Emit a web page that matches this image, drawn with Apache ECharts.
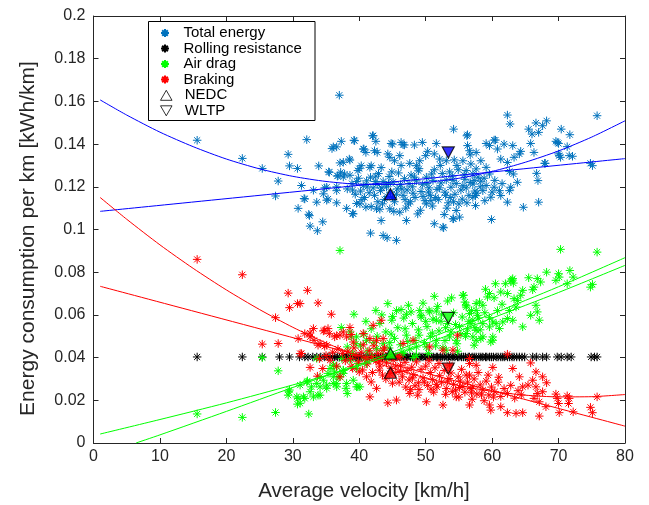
<!DOCTYPE html>
<html>
<head>
<meta charset="utf-8">
<script src="https://cdn.jsdelivr.net/npm/echarts@6/dist/echarts.min.js"></script>
<style>html,body{margin:0;padding:0;background:#fff}#c{width:649px;height:505px}</style>
</head>
<body>
<div id="c"></div>
<script>
// ---------- DATA ----------
const xTicks = [0, 10, 20, 30, 40, 50, 60, 70, 80];
const yTicks = [0, 0.02, 0.04, 0.06, 0.08, 0.1, 0.12, 0.14, 0.16, 0.18, 0.2];
const xTitle = 'Average velocity [km/h]';
const yTitle = 'Energy consumption per km [kWh/km]';

const totalEnergy = [
[15.6,0.1418],[22.4,0.1333],[25.4,0.1286],[27.8,0.1227],[27.4,0.1157],[29.3,0.1352],[29.5,0.1298],[30.7,0.1286],[32.1,0.1421],[33.9,0.1298],[31.7,0.1145],[30.8,0.1099],[32.4,0.1071],[32.6,0.1016],[33.7,0.0994],[34.5,0.1036],[33.1,0.1184],[34.8,0.1195],[35.1,0.1137],[35.4,0.1270],[35.9,0.1379],[36.6,0.1387],[37.3,0.1413],[37.1,0.1312],[38.6,0.1325],[39.2,0.1418],[36.7,0.1250],[37.6,0.1246],[36.6,0.1200],[36.6,0.1125],[38.1,0.1099],[39.0,0.1075],[39.6,0.1122],[37.0,0.1629],[38.6,0.1254],
[36.1,0.1387],[42.1,0.1439],[42.5,0.1413],[40.6,0.1377],[41.0,0.1361],[42.3,0.1369],[42.7,0.1361],[44.8,0.1403],[46.3,0.1408],[46.8,0.1396],[48.3,0.1396],[49.5,0.1408],[51.6,0.1403],[54.2,0.1470],[56.2,0.1439],[56.3,0.1393],[56.6,0.1369],[56.7,0.1350],[55.6,0.1322],[44.3,0.1354],[44.6,0.1338],[46.1,0.1346],[45.3,0.1322],[47.6,0.1310],[48.6,0.1299],[49.1,0.1322],[50.0,0.1346],[50.3,0.1366],[51.3,0.1354],[52.1,0.1330],[53.1,0.1322],[54.3,0.1326],[41.6,0.1291],[41.8,0.1299],[40.3,0.1299],[39.8,0.1276],[37.6,0.1315],[38.5,0.1330],[37.2,0.1268],[37.8,0.1260],[35.5,0.1268],[36.8,0.1252],[35.1,0.1198],[36.6,0.1182],[34.6,0.1167],[31.3,0.1206],[31.8,0.1143],[35.3,0.1143],[33.6,0.1128],[39.1,0.1073],[40.1,0.1120],[32.5,0.1065],[41.8,0.1107],[42.6,0.1097],[43.3,0.1042],[43.5,0.1120],[41.7,0.0983],[43.6,0.0972],[44.2,0.0961],[45.6,0.0949],[44.6,0.1097],[46.1,0.1081],[47.1,0.1042],[48.8,0.1073],[50.1,0.1120],[51.3,0.1027],[52.7,0.1008],[54.1,0.1050],[54.6,0.1089],[55.1,0.1058],[57.1,0.1151],[57.5,0.1112],
[56.3,0.1444],[62.3,0.1536],[62.7,0.1494],[65.5,0.1470],[66.0,0.1447],[66.6,0.1499],[67.0,0.1455],[68.2,0.1509],[67.6,0.1486],[70.4,0.1470],[71.7,0.1444],[75.8,0.1533],[69.6,0.1413],[70.0,0.1403],[65.8,0.1403],[66.3,0.1361],[68.0,0.1310],[66.7,0.1263],[66.9,0.1229],[70.0,0.1354],[70.3,0.1338],[71.3,0.1388],[71.6,0.1346],[72.1,0.1343],[74.8,0.1310],[75.1,0.1299],[62.3,0.1128],[64.7,0.1104],[67.0,0.1128],[59.9,0.1047],[57.5,0.1159],[63.8,0.1221],[63.2,0.1260],[62.6,0.1272],[62.3,0.1314],[61.3,0.1330],[60.8,0.1377],[59.6,0.1393],[60.3,0.1419],[61.8,0.1400],[63.1,0.1393],[64.3,0.1366],[64.1,0.1354],[63.3,0.1338],[61.1,0.1182],[61.3,0.1159],[60.3,0.1198],[59.1,0.1206],[58.3,0.1226],[57.1,0.1213],[58.6,0.1182],[59.8,0.1151],[62.6,0.1182],[62.8,0.1198],[56.8,0.1307],[56.1,0.1276],[58.3,0.1322],[57.6,0.1284],[59.1,0.1291],[52.6,0.1011],[54.2,0.1050],[52.8,0.1070],[67.9,0.1310],[39.3,0.1416],[42.0,0.1439],[40.7,0.1377],[45.0,0.1400],[46.6,0.1397],[57.6,0.1361],[59.1,0.1403],[60.5,0.1419],[69.8,0.1408],[70.1,0.1346],
[38.2,0.1190],[38.9,0.1215],[39.4,0.1165],[39.9,0.1240],[40.2,0.1180],[40.6,0.1205],[40.8,0.1150],[41.1,0.1228],[41.5,0.1172],[41.7,0.1245],[42.1,0.1195],[42.3,0.1160],[42.7,0.1212],[42.9,0.1262],[43.2,0.1182],[43.6,0.1225],[43.8,0.1140],[44.1,0.1200],[44.5,0.1248],[44.7,0.1175],[45.1,0.1222],[45.3,0.1130],[45.7,0.1190],[45.9,0.1265],[46.2,0.1210],[46.6,0.1160],[46.8,0.1238],[47.2,0.1185],[47.4,0.1120],[47.8,0.1255],[48.0,0.1200],[48.4,0.1150],[48.6,0.1228],[48.9,0.1275],[49.3,0.1178],[49.5,0.1210],[49.9,0.1135],[50.1,0.1245],[50.5,0.1195],[50.7,0.1160],[51.1,0.1230],[51.3,0.1280],[51.7,0.1188],[51.9,0.1140],[52.3,0.1218],[52.5,0.1262],[52.9,0.1175],[53.1,0.1232],[53.4,0.1125],[53.8,0.1198],[54.0,0.1250],[54.4,0.1165],[54.6,0.1215],[54.9,0.1280],[55.3,0.1185],[55.5,0.1142],[55.9,0.1235],[56.1,0.1195],[56.5,0.1160],[56.7,0.1220],[57.1,0.1260],[57.4,0.1180],[57.9,0.1245],[58.2,0.1200],
[41.0,0.1105],[43.1,0.1095],[45.2,0.1085],[47.0,0.1100],[49.2,0.1090],[51.0,0.1110],[53.2,0.1100],[55.0,0.1120],[40.0,0.1285],[43.3,0.1290],[46.3,0.1300],[49.0,0.1285],[52.2,0.1300],[54.7,0.1300],[44.2,0.1155],[48.1,0.1170],[50.4,0.1175],[53.7,0.1150],[39.0,0.1185],[40.4,0.1140],[42.5,0.1250],[44.9,0.1270],[47.5,0.1215],[50.9,0.1260],[53.6,0.1270],[55.8,0.1255],[57.7,0.1170],[58.8,0.1240],[59.6,0.1260],[60.4,0.1230],[61.5,0.1215],[60.0,0.1175],[58.9,0.1135],[56.2,0.1125],[54.2,0.1130],[51.5,0.1150],[49.6,0.1155],[46.9,0.1140],[45.6,0.1165],[43.4,0.1195],[41.2,0.1200],[39.6,0.1225],
[42.4,0.1225],[44.4,0.1215],[46.4,0.1190],[48.3,0.1245],[50.2,0.1215],[52.1,0.1195],[54.1,0.1230],[55.6,0.1205],[57.3,0.1230],[47.7,0.1130],[50.8,0.1135],[53.0,0.1160],[45.0,0.1150],[42.8,0.1130]
];

const rollingLevel = 0.0403;
const rollingVelocity = [
15.6,22.4,25.4,28.0,29.5,31.0,31.8,32.3,33.0,33.6,34.2,34.8,35.3,35.6,36.0,36.3,36.7,37.0,37.4,37.7,38.1,38.3,38.7,39.0,39.4,39.6,40.0,40.3,40.6,41.0,41.2,41.6,41.9,42.3,42.5,42.9,43.2,43.5,43.9,44.1,44.5,44.8,45.1,45.5,45.7,46.1,46.4,46.7,47.1,47.3,47.7,48.0,48.4,48.6,49.0,49.3,49.6,50.0,50.2,50.6,50.9,51.2,51.6,51.8,52.2,52.5,52.8,53.2,53.4,53.8,54.1,54.4,54.8,55.0,55.4,55.7,56.0,56.4,56.6,57.0,57.3,57.6,58.0,58.3,58.6,59.0,59.2,59.6,59.9,60.2,60.6,60.9,61.3,61.6,61.9,62.3,62.6,63.0,63.3,63.7,64.1,64.5,64.9,66.1,66.7,67.6,68.2,69.8,70.4,71.3,71.9,74.9,75.4,75.8
];

const airDrag = [
[15.6,0.0136],[22.4,0.0120],[25.4,0.0400],[27.4,0.0143],[27.8,0.0338],[29.4,0.0240],[29.3,0.0224],[30.8,0.0209],[30.7,0.0182],[31.1,0.0271],[31.8,0.0209],[32.2,0.0291],[32.4,0.0136],[32.6,0.0240],[37.1,0.0902],[39.2,0.0603],[37.3,0.0541],[38.8,0.0497],[29.5,0.0248],[30.6,0.0216],[31.6,0.0216],[33.1,0.0216],[33.8,0.0224],[33.6,0.0279],[35.1,0.0256],[34.6,0.0294],[35.3,0.0326],[36.3,0.0333],[36.6,0.0279],[36.8,0.0310],[37.6,0.0326],[38.0,0.0256],[38.2,0.0232],[39.1,0.0294],[39.6,0.0263],[39.8,0.0372],[32.1,0.0286],[32.8,0.0263],[34.1,0.0263],[35.6,0.0349],[36.1,0.0364],[37.6,0.0341],
[51.3,0.0687],[55.6,0.0692],[53.3,0.0665],[44.3,0.0653],[42.5,0.0621],[46.3,0.0625],[47.1,0.0603],[49.1,0.0621],[50.5,0.0621],[51.6,0.0618],[56.1,0.0637],[57.6,0.0653],[57.8,0.0598],[57.1,0.0575],
[31.1,0.0186],[34.1,0.0224],[35.1,0.0271],[36.1,0.0279],[36.6,0.0263],[38.1,0.0279],[39.8,0.0263],[36.6,0.0357],[36.1,0.0310],[34.1,0.0310],
[70.3,0.0907],[75.8,0.0894],[68.2,0.0800],[70.0,0.0793],[70.1,0.0777],[71.7,0.0808],[72.2,0.0777],[69.6,0.0762],[71.3,0.0746],[74.8,0.0730],[75.1,0.0743],
[65.5,0.0774],[66.8,0.0770],[67.3,0.0754],[66.3,0.0730],[66.1,0.0718],[63.1,0.0770],[62.8,0.0758],[60.5,0.0746],[62.0,0.0746],[61.3,0.0707],[62.3,0.0700],[64.6,0.0715],[64.3,0.0692],[63.8,0.0668],[63.3,0.0676],[59.6,0.0700],[59.3,0.0684],[58.1,0.0660],[58.6,0.0645],[57.6,0.0621],[56.6,0.0606],
[66.6,0.0645],[66.8,0.0614],[67.1,0.0575],[65.8,0.0598],[64.6,0.0544],[63.1,0.0575],[61.6,0.0567],[60.6,0.0559],[61.1,0.0536],[60.1,0.0567],[59.6,0.0544],[58.6,0.0559],[57.6,0.0528],[58.3,0.0489],[60.1,0.0497],[57.1,0.0497],[57.3,0.0458],[59.8,0.0473],[56.8,0.0559],[62.3,0.0583],[62.6,0.0621],[63.6,0.0637],
[63.0,0.0764],[63.2,0.0749],[55.7,0.0692],[45.0,0.0593],[49.3,0.0598],[50.6,0.0614],[51.6,0.0575],[56.1,0.0645],[59.6,0.0587],[47.8,0.0614],
[38.6,0.0520],[39.6,0.0497],[41.1,0.0481],[42.6,0.0442],[43.6,0.0435],[45.1,0.0411],[46.6,0.0419],[48.6,0.0450],[50.1,0.0450],[51.6,0.0481],[53.6,0.0497],[54.6,0.0481],[56.1,0.0513],[57.6,0.0481],[58.6,0.0497],[60.1,0.0481],[53.1,0.0435],[48.6,0.0411],[40.1,0.0263],
[33.6,0.0396],[36.1,0.0364],[37.6,0.0341],[38.6,0.0388],[41.1,0.0372],[39.6,0.0349],[37.1,0.0310],
[40.2,0.0455],[40.7,0.0510],[41.3,0.0430],[41.8,0.0535],[42.2,0.0470],[42.7,0.0500],[43.1,0.0560],[43.6,0.0465],[44.0,0.0520],[44.5,0.0445],[44.9,0.0575],[45.3,0.0490],[45.8,0.0540],[46.2,0.0460],[46.7,0.0585],[47.1,0.0505],[47.6,0.0440],[48.0,0.0560],[48.4,0.0480],[48.9,0.0530],[49.3,0.0590],[49.8,0.0470],[50.2,0.0545],[50.7,0.0500],[51.1,0.0580],[51.5,0.0455],[52.0,0.0525],[52.4,0.0600],[52.9,0.0480],[53.3,0.0560],[53.8,0.0520],[54.2,0.0610],[54.7,0.0465],[55.1,0.0545],[55.5,0.0590],[56.0,0.0500],[56.5,0.0570],[56.9,0.0620],[57.4,0.0540],[57.9,0.0585],[42.0,0.0405],[44.2,0.0395],[46.4,0.0425],[48.2,0.0400],[50.4,0.0420],[52.6,0.0445],[54.8,0.0430],[43.4,0.0600],[45.6,0.0620],[47.4,0.0645],[49.6,0.0655],[51.8,0.0640],[53.9,0.0680],[55.9,0.0660],[41.0,0.0570],[39.0,0.0420],[39.5,0.0465],[38.2,0.0450],[37.4,0.0395],[40.9,0.0395],[44.8,0.0510],[46.9,0.0535],[49.0,0.0505],[51.0,0.0515],[53.0,0.0540],[55.3,0.0510],[44.6,0.0470],[47.3,0.0475],[50.0,0.0570],[52.3,0.0570],[54.5,0.0555],[56.3,0.0535],[58.2,0.0530],[58.9,0.0610],[60.8,0.0620],[61.5,0.0650],[59.0,0.0720],[60.3,0.0680]
];

const braking = [
[15.6,0.0860],[22.4,0.0788],[29.3,0.0702],[29.5,0.0634],[30.7,0.0653],[32.2,0.0715],[33.8,0.0656],[27.4,0.0587],[27.8,0.0466],[25.4,0.0463],[30.8,0.0489],[31.1,0.0419],[31.8,0.0512],[32.6,0.0515],[33.1,0.0536],[33.2,0.0481],[33.8,0.0458],[34.6,0.0525],[34.8,0.0453],[35.3,0.0536],[35.5,0.0512],[35.8,0.0603],[36.3,0.0497],[36.6,0.0503],[37.1,0.0505],[37.6,0.0520],[38.1,0.0497],[38.6,0.0541],[38.8,0.0508],[32.6,0.0354],[33.7,0.0313],[34.5,0.0349],[35.6,0.0388],[36.6,0.0360],[37.1,0.0310],
[31.1,0.0653],[34.8,0.0528],[39.1,0.0473],[40.6,0.0513],[41.6,0.0489],[42.1,0.0551],[43.3,0.0575],[42.6,0.0481],[43.6,0.0489],[34.1,0.0466],[35.1,0.0458],[32.6,0.0497],[31.3,0.0419],[38.8,0.0357],[40.0,0.0333],[41.1,0.0310],[41.8,0.0286],[43.0,0.0341],[41.6,0.0216],[42.6,0.0256],[44.3,0.0188],[45.6,0.0201],[47.6,0.0232],[48.8,0.0224],[50.1,0.0193],[52.6,0.0178],[54.6,0.0216],[56.6,0.0178],[57.1,0.0263],[56.1,0.0318],[57.6,0.0364],[56.6,0.0396],[52.6,0.0435],[54.1,0.0435],[54.8,0.0505],[50.6,0.0450],[48.1,0.0481],[46.6,0.0466],[46.1,0.0403],[43.6,0.0435],
[62.3,0.0416],[65.8,0.0375],[66.6,0.0333],[68.2,0.0282],[67.6,0.0310],[63.1,0.0349],[64.1,0.0310],[64.6,0.0263],[65.4,0.0271],[66.1,0.0294],[66.6,0.0263],[66.8,0.0232],[67.6,0.0240],[66.3,0.0209],[67.1,0.0193],[69.6,0.0229],[69.8,0.0209],[71.3,0.0221],[71.6,0.0209],[70.0,0.0185],[71.5,0.0185],[75.8,0.0216],[68.1,0.0170],[70.1,0.0142],[72.2,0.0146],[74.8,0.0167],[75.1,0.0142],[67.1,0.0126],[64.6,0.0142],[63.6,0.0139],[62.3,0.0142],[61.3,0.0170],[59.6,0.0178],[59.8,0.0154],[60.1,0.0354],[56.6,0.0372],[56.6,0.0318],
[38.3,0.0430],[38.7,0.0395],[39.2,0.0445],[39.5,0.0410],[39.9,0.0380],[40.3,0.0425],[40.6,0.0460],[40.9,0.0398],[41.2,0.0370],[41.5,0.0432],[41.9,0.0405],[42.2,0.0455],[42.5,0.0385],[42.8,0.0420],[43.1,0.0360],[43.4,0.0398],[43.8,0.0445],[44.1,0.0375],[44.5,0.0410],[44.8,0.0350],[45.1,0.0388],[45.5,0.0330],[45.8,0.0405],[46.2,0.0362],[46.5,0.0310],[46.9,0.0378],[47.2,0.0340],[47.5,0.0295],[47.9,0.0355],[48.2,0.0320],[48.6,0.0380],[48.9,0.0282],[49.3,0.0345],[49.6,0.0305],[50.0,0.0360],[50.3,0.0270],[50.7,0.0330],[51.0,0.0298],[51.4,0.0352],[51.7,0.0262],[52.1,0.0315],[52.4,0.0285],[52.8,0.0340],[53.1,0.0255],[53.5,0.0302],[53.8,0.0328],[54.2,0.0275],[54.5,0.0248],[54.9,0.0310],[55.2,0.0290],[55.6,0.0265],[55.9,0.0238],[56.3,0.0285],[56.8,0.0255],[57.3,0.0300],[57.7,0.0230],[58.2,0.0272],[58.6,0.0248],[59.1,0.0290],[59.5,0.0225],[59.9,0.0262],[60.4,0.0240],[60.9,0.0285],[61.3,0.0218],[61.8,0.0255],[62.3,0.0232],[62.8,0.0270],[63.4,0.0210],[63.9,0.0245],[64.4,0.0225],[45.0,0.0280],[47.0,0.0262],[49.0,0.0250],[51.2,0.0238],[53.0,0.0228],[55.0,0.0215],[57.0,0.0205],[58.8,0.0198],[44.0,0.0300],[46.0,0.0285],[48.4,0.0268],[50.5,0.0385],[52.0,0.0372],[53.6,0.0365],[55.4,0.0345],[57.9,0.0330],[59.4,0.0318],[61.0,0.0308],[39.0,0.0350],[40.5,0.0342],[42.0,0.0330],[43.5,0.0318],[37.5,0.0420],[36.8,0.0440],[36.0,0.0425],[35.0,0.0410],[34.0,0.0395],[37.9,0.0385],
[46.3,0.0335],[48.0,0.0305],[49.8,0.0285],[51.6,0.0275],[53.3,0.0290],[55.1,0.0260],[56.9,0.0235],[58.4,0.0225],[60.2,0.0215],[47.7,0.0250],[50.8,0.0252],[54.0,0.0240],[44.6,0.0325],[43.0,0.0380],[45.5,0.0360]
];

// NEDC / WLTP cycle results: [total, air drag, braking]
const nedcVelocity = 44.7;
const nedcValues = [0.1165, 0.0419, 0.0329];
const wltpVelocity = 53.4;
const wltpValues = [0.1361, 0.0586, 0.0349];

// Fitted curves as [velocity, value]
const totalFitQuad = [[1,0.1607],[5,0.1536],[10,0.1456],[15,0.1388],[20,0.1330],[25,0.1284],[30,0.1249],[35,0.1225],[40,0.1212],[45,0.1211],[50,0.1220],[55,0.1240],[60,0.1272],[65,0.1315],[70,0.1368],[75,0.1433],[80,0.1509]];
const totalFitLin = [[1,0.1085],[80,0.1332]];
const brakeFitQuad = [[1,0.1150],[5,0.1048],[10,0.0928],[15,0.0818],[20,0.0717],[25,0.0625],[30,0.0542],[35,0.0469],[40,0.0405],[45,0.0350],[50,0.0305],[55,0.0269],[60,0.0242],[65,0.0224],[70,0.0216],[75,0.0217],[80,0.0227]];
const brakeFitLin = [[1,0.0734],[80,0.0079]];
const airFitA = [[1,0.0042],[10,0.0110],[20,0.0188],[30,0.0272],[40,0.0362],[50,0.0465],[60,0.0585],[70,0.0705],[80,0.0832]];
const airFitB = [[6.4,0.0],[10,0.0038],[20,0.0148],[30,0.0260],[40,0.0368],[50,0.0485],[60,0.0605],[70,0.0732],[80,0.0868]];

// ---------- CHART ----------
const FONT = 'Liberation Sans, Arial, Helvetica, sans-serif';
const C_TOTAL = '#0072BD', C_ROLL = '#000000', C_AIR = '#00FF00', C_BRAKE = '#FF0000';
const ASTER = 'path://M0,-1L0,1M-1,0L1,0M-0.707,-0.707L0.707,0.707M-0.707,0.707L0.707,-0.707';
const TRI_UP = 'path://M0,-1L0.866,0.5L-0.866,0.5Z';
const TRI_DN = 'path://M-0.866,-0.5L0.866,-0.5L0,1Z';
const AX = '#262626';

function scatter(name, data, color) {
  return {
    name, type: 'scatter', data, symbol: ASTER, symbolSize: 8.5, z: 2,
    itemStyle: { color: color, borderColor: color, borderWidth: 1, opacity: 1 },
    emphasis: { disabled: true }, animation: false
  };
}
function fit(data, color) {
  return {
    type: 'line', data, showSymbol: false, symbol: 'none', smooth: 0.25, z: 3,
    lineStyle: { color: color, width: 1 }, emphasis: { disabled: true }, animation: false, silent: true
  };
}
const cycleColors = ['#0000FF', C_AIR, C_BRAKE];

const chart = echarts.init(document.getElementById('c'), null, { renderer: 'canvas' });
const yFmt = v => String(parseFloat(Number(v).toFixed(2)));

chart.setOption({
  animation: false,
  backgroundColor: '#fff',
  textStyle: { fontFamily: FONT },
  grid: { left: 93.5, right: 24, top: 16, bottom: 62 },
  xAxis: [
    { type: 'value', min: xTicks[0], max: xTicks[xTicks.length - 1], interval: 10, position: 'bottom',
      axisLine: { show: true, onZero: false, lineStyle: { color: AX, width: 1 } },
      axisTick: { show: true, inside: true, length: 5, lineStyle: { color: AX } },
      axisLabel: { fontSize: 16, color: AX, margin: 6, fontFamily: FONT },
      splitLine: { show: false } },
    { type: 'value', min: xTicks[0], max: xTicks[xTicks.length - 1], interval: 10, position: 'top',
      axisLine: { show: true, onZero: false, lineStyle: { color: AX, width: 1 } },
      axisTick: { show: true, inside: true, length: 5, lineStyle: { color: AX } },
      axisLabel: { show: false }, splitLine: { show: false } }
  ],
  yAxis: [
    { type: 'value', min: yTicks[0], max: yTicks[yTicks.length - 1], interval: 0.02, position: 'left',
      axisLine: { show: true, onZero: false, lineStyle: { color: AX, width: 1 } },
      axisTick: { show: true, inside: true, length: 5, lineStyle: { color: AX } },
      axisLabel: { fontSize: 16, color: AX, margin: 8, formatter: yFmt, fontFamily: FONT },
      splitLine: { show: false } },
    { type: 'value', min: yTicks[0], max: yTicks[yTicks.length - 1], interval: 0.02, position: 'right',
      axisLine: { show: true, onZero: false, lineStyle: { color: AX, width: 1 } },
      axisTick: { show: true, inside: true, length: 5, lineStyle: { color: AX } },
      axisLabel: { show: false }, splitLine: { show: false } }
  ],
  graphic: [
    { type: 'rect', z: 10, silent: true,
      shape: { x: 148.5, y: 21.5, width: 166.5, height: 99 },
      style: { fill: '#fff', stroke: '#000', lineWidth: 1 } },
    { type: 'text', z: 10, silent: true, x: 364, y: 491,
      style: { text: xTitle, fontSize: 20.5, fontFamily: FONT, fill: AX, align: 'center', verticalAlign: 'middle' } },
    { type: 'text', z: 10, silent: true, x: 28, y: 238.5, rotation: Math.PI / 2,
      style: { text: yTitle, fontSize: 21, fontFamily: FONT, fill: AX, align: 'center', verticalAlign: 'middle' } }
  ],
  legend: [
    { data: ['Total energy', 'Rolling resistance', 'Air drag', 'Braking'],
      orient: 'vertical', left: 160, top: 25.5, padding: 0, itemGap: 0.5,
      itemWidth: 27, itemHeight: 8, selectedMode: false, z: 20,
      textStyle: { fontSize: 15, lineHeight: 15, color: '#000', fontFamily: FONT } },
    { data: [
        { name: 'NEDC', icon: TRI_UP, itemStyle: { color: '#fff', borderColor: '#000', borderWidth: 1 } },
        { name: 'WLTP', icon: TRI_DN, itemStyle: { color: '#fff', borderColor: '#000', borderWidth: 1 } } ],
      orient: 'vertical', left: 160, top: 87.8, padding: 0, itemGap: 0.5,
      itemWidth: 27, itemHeight: 10, selectedMode: false, z: 20,
      textStyle: { fontSize: 15, lineHeight: 15, color: '#000', fontFamily: FONT } }
  ],
  series: [
    scatter('Total energy', totalEnergy, C_TOTAL),
    scatter('Rolling resistance', rollingVelocity.map(v => [v, rollingLevel]), C_ROLL),
    scatter('Air drag', airDrag, C_AIR),
    scatter('Braking', braking, C_BRAKE),
    fit(totalFitQuad, '#0000FF'), fit(totalFitLin, '#0000FF'),
    fit(brakeFitQuad, '#FF0000'), fit(brakeFitLin, '#FF0000'),
    fit(airFitA, '#00FF00'), fit(airFitB, '#00FF00'),
    { name: 'NEDC', type: 'scatter', symbol: 'triangle', symbolSize: [12, 11], z: 6,
      data: nedcValues.map((v, i) => ({ value: [nedcVelocity, v], itemStyle: { color: cycleColors[i] } })),
      itemStyle: { borderColor: '#000', borderWidth: 1.2 }, emphasis: { disabled: true } },
    { name: 'WLTP', type: 'scatter', symbol: 'triangle', symbolRotate: 180, symbolSize: [12, 11], z: 6,
      data: wltpValues.map((v, i) => ({ value: [wltpVelocity, v], itemStyle: { color: cycleColors[i] } })),
      itemStyle: { borderColor: '#000', borderWidth: 1.2 }, emphasis: { disabled: true } }
  ]
});
</script>
</body>
</html>
